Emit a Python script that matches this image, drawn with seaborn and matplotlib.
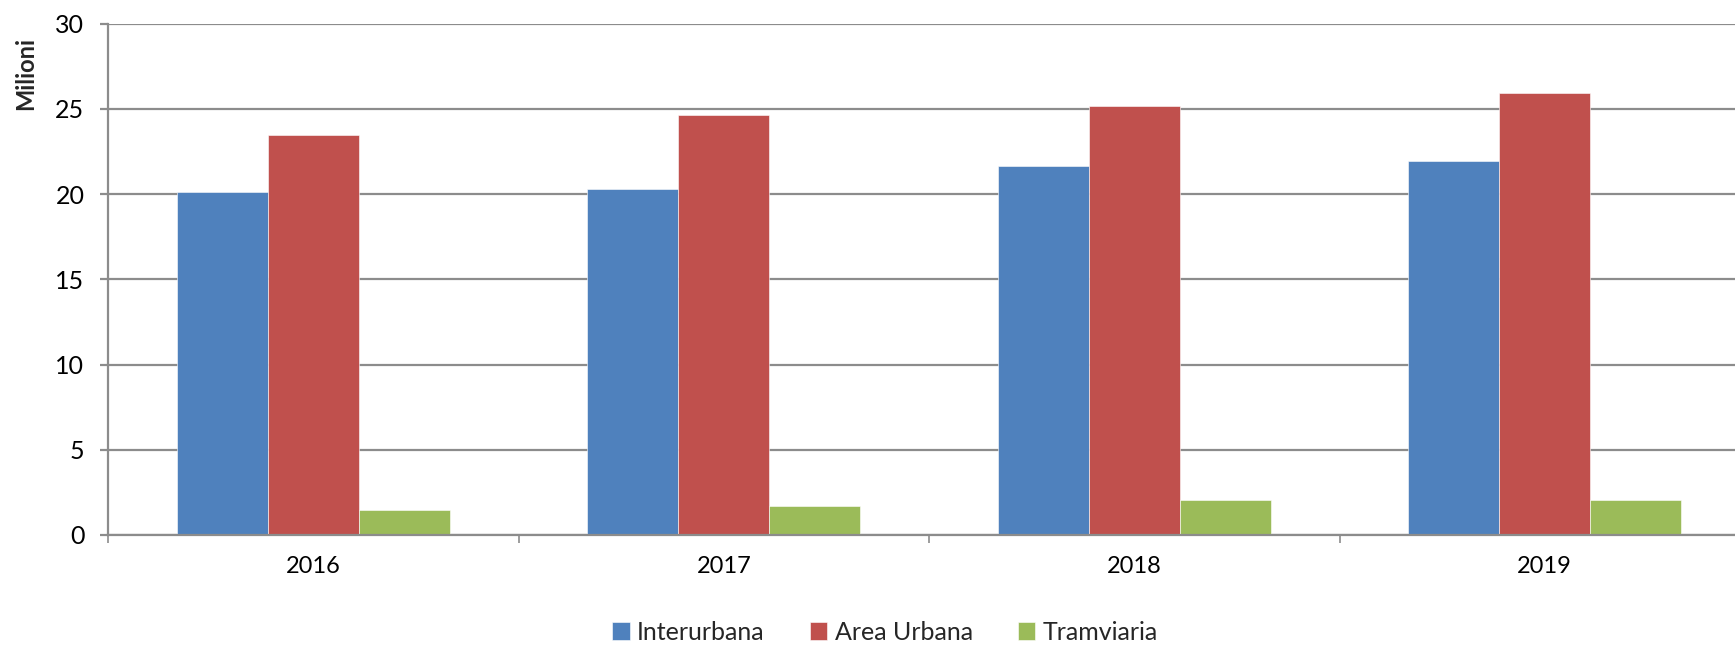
import matplotlib
matplotlib.use("Agg")
import matplotlib.pyplot as plt
import seaborn as sns
import pandas as pd
import numpy as np

years = ["2016", "2017", "2018", "2019"]
series = ["Interurbana", "Area Urbana", "Tramviaria"]
interurbana = [20.13, 20.28, 21.64, 21.93]
area_urbana = [23.46, 24.63, 25.16, 25.94]
tramviaria = [1.46, 1.70, 2.03, 2.03]
colors = ["#4F81BD", "#C0504D", "#9BBB59"]

df = pd.DataFrame({
    "anno": years * 3,
    "serie": np.repeat(series, len(years)),
    "valore": interurbana + area_urbana + tramviaria,
})

sns.set_theme(style="white")
plt.rcParams["font.family"] = ["Lato", "DejaVu Sans"]

fig = plt.figure(figsize=(17.35, 6.45), dpi=100)
# plot area runs slightly past the right edge, like the original
ax = fig.add_axes([108 / 1735, 110 / 645, 1642 / 1735, 511.5 / 645])

sns.barplot(data=df, x="anno", y="valore", hue="serie", hue_order=series,
            palette=colors, width=0.666, gap=0, saturation=1,
            edgecolor="white", linewidth=0.4, ax=ax, legend=True)

grid_c = "#8C8C8C"
ax.set_ylim(0, 30)
ax.set_xlim(-0.5, 3.5)
ax.set_yticks(range(0, 31, 5))
ax.yaxis.grid(True, color=grid_c, linewidth=1.6)
ax.set_axisbelow(True)
for s in ["top", "right"]:
    ax.spines[s].set_visible(False)
for s in ["left", "bottom"]:
    ax.spines[s].set_color(grid_c)
    ax.spines[s].set_linewidth(1.6)

ax.set_xticks(np.arange(-0.5, 4, 1), minor=True)
ax.tick_params(axis="x", which="major", length=0, pad=15, labelsize=17, colors="black")
ax.tick_params(axis="x", which="minor", length=6, width=1.2, color=grid_c, direction="out", bottom=True)
ax.tick_params(axis="y", length=6, width=1.6, color=grid_c, direction="out", left=True,
               pad=11, labelsize=18, labelcolor="black")
ax.set_xlabel("")
ax.set_ylabel("")

fig.text(26 / 1735, 1 - 74 / 645, "Milioni", rotation=90, fontsize=17,
         fontweight="bold", ha="center", va="center")

handles, labels = ax.get_legend_handles_labels()
ax.get_legend().remove()
fig.legend(handles, labels, loc="center", bbox_to_anchor=(885 / 1735, 1 - 632 / 645),
           ncol=3, frameon=False, fontsize=18, handlelength=0.7, handleheight=0.7,
           handletextpad=0.3, columnspacing=1.8)

fig.savefig("out.png", dpi=100)
